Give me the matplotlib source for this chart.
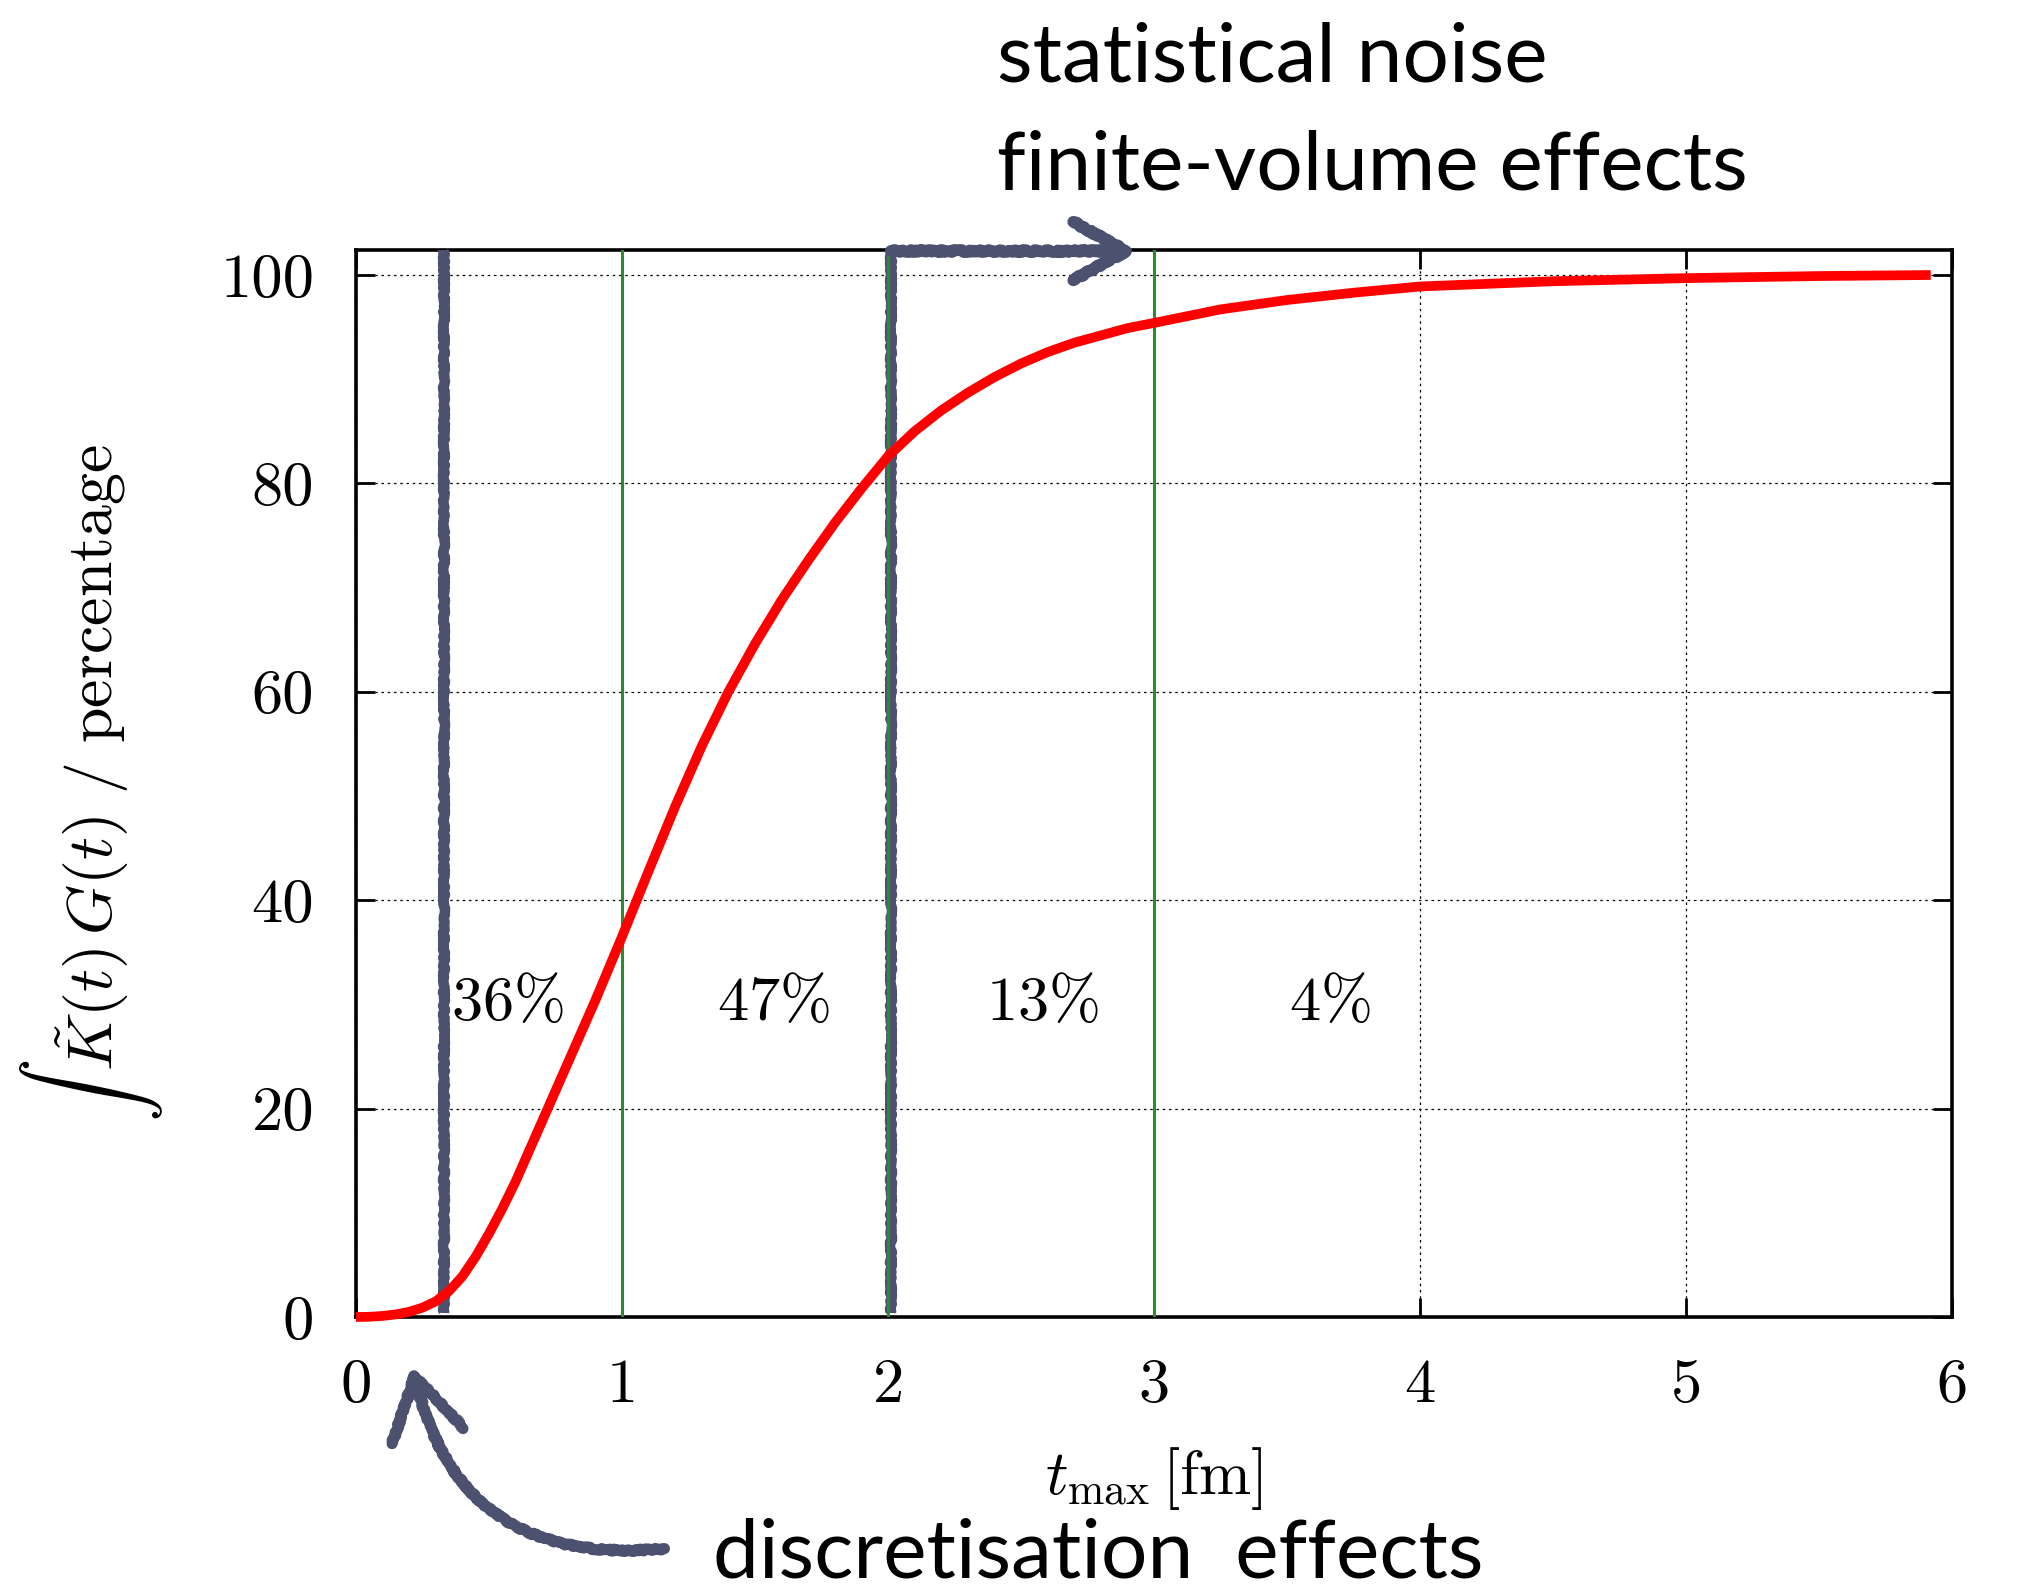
import matplotlib
matplotlib.use("Agg")
import matplotlib.pyplot as plt
from matplotlib.patches import FancyArrowPatch

plt.rcParams["mathtext.fontset"] = "cm"
plt.rcParams["font.family"] = "serif"
plt.rcParams["font.serif"] = ["cmr10", "DejaVu Serif"]
plt.rcParams["axes.formatter.use_mathtext"] = True

# cumulative contribution of the integrand, in percent
t_max = [0.0, 0.05, 0.1, 0.15, 0.2, 0.25, 0.3, 0.35, 0.4, 0.45, 0.5, 0.55,
         0.6, 0.65, 0.7, 0.8, 0.9, 1.0, 1.1, 1.2, 1.3, 1.4, 1.5, 1.6, 1.7,
         1.8, 1.9, 2.0, 2.1, 2.2, 2.3, 2.4, 2.5, 2.6, 2.7, 2.8, 2.9, 3.0,
         3.25, 3.5, 3.75, 4.0, 4.25, 4.5, 4.75, 5.0, 5.5, 5.92]
percent = [0.0, 0.02, 0.1, 0.25, 0.5, 0.9, 1.5, 2.5, 3.9, 5.8, 8.0, 10.4,
           13.0, 15.9, 18.8, 24.6, 30.4, 36.5, 42.8, 49.0, 54.8, 60.0, 64.6,
           68.8, 72.6, 76.2, 79.5, 82.6, 85.0, 87.0, 88.7, 90.2, 91.5, 92.6,
           93.5, 94.2, 94.9, 95.4, 96.7, 97.6, 98.3, 98.9, 99.15, 99.4, 99.55,
           99.7, 99.9, 100.0]

window_edges = [1, 2, 3]
window_labels = ["36", "47", "13", "4"]
window_label_x = [0.57, 1.57, 2.58, 3.66]
label_y = 30

xticks = [0, 1, 2, 3, 4, 5, 6]
yticks = [0, 20, 40, 60, 80, 100]

chalk = "#4d5170"
W, H = 2023, 1593
sketch = dict(scale=1.0, length=10, randomness=20)

fig = plt.figure(figsize=(W / 100, H / 100), dpi=100)
ax = fig.add_axes([356 / W, 1 - 1317 / H, (1952 - 356) / W, (1317 - 250) / H])

ax.set_xlim(0, 6)
ax.set_ylim(0, 102.4)
ax.set_xticks(xticks)
ax.set_yticks(yticks)
ax.set_xticklabels([str(v) for v in xticks])
ax.set_yticklabels([str(v) for v in yticks])
ax.tick_params(direction="in", length=14, width=2, labelsize=45,
               top=True, right=True, pad=30)
ax.tick_params(axis="x", pad=30)
for s in ax.spines.values():
    s.set_linewidth(2.6)

ax.grid(True, color="black", linestyle=(0, (2, 3)), linewidth=0.9, zorder=1)

# green window boundaries
for x in window_edges:
    ax.axvline(x, color="#2a8c2a", linewidth=2.2, zorder=4)

# chalk markers
cut = ax.plot([0.33, 0.33], [0.4, 102.4], color=chalk, linewidth=7.5,
              solid_capstyle="butt", zorder=3, clip_on=False)[0]
cut.set_sketch_params(**sketch)
upper = ax.plot([2.01, 2.01], [0.4, 102.3], color=chalk, linewidth=7.5,
                solid_capstyle="butt", zorder=3, clip_on=False)[0]
upper.set_sketch_params(**sketch)

top_arrow = FancyArrowPatch((2.0, 102.3), (2.95, 102.3),
                            arrowstyle="->,head_length=0.9,head_width=0.5",
                            mutation_scale=42, color=chalk, linewidth=8.5,
                            zorder=6, clip_on=False)
top_arrow.set_sketch_params(**sketch)
ax.add_patch(top_arrow)

bottom_arrow = FancyArrowPatch((1.17, -22.2), (0.21, -4.4),
                               connectionstyle="arc3,rad=-0.45",
                               arrowstyle="->,head_length=1.0,head_width=0.6",
                               mutation_scale=44, color=chalk, linewidth=8,
                               zorder=6, clip_on=False)
bottom_arrow.set_sketch_params(**sketch)
ax.add_patch(bottom_arrow)

ax.plot(t_max, percent, color="#ff0000", linewidth=7,
        solid_joinstyle="round", solid_capstyle="butt", zorder=5,
        clip_on=False)

for x, lab in zip(window_label_x, window_labels):
    ax.text(x, label_y, r"$%s\%%$" % lab, fontsize=45, ha="center",
            va="center", zorder=7)

ax.set_xlabel(r"$t_{\mathrm{max}}\,[\mathrm{fm}]$", fontsize=45, labelpad=22)
ax.set_ylabel(r"$\int\;\tilde{K}(t)\,G(t)\ /\ \mathrm{percentage}$",
              fontsize=46, labelpad=40)

fig.text(997 / W, 1 - 81 / H, "statistical noise", family="Lato",
         fontsize=59, va="baseline")
fig.text(997 / W, 1 - 190 / H, "finite-volume effects", family="Lato",
         fontsize=59, va="baseline")
fig.text(713 / W, 1 - 1577 / H, "discretisation  effects", family="Lato",
         fontsize=59, va="baseline")

fig.savefig("out.png", dpi=100, facecolor="white")
